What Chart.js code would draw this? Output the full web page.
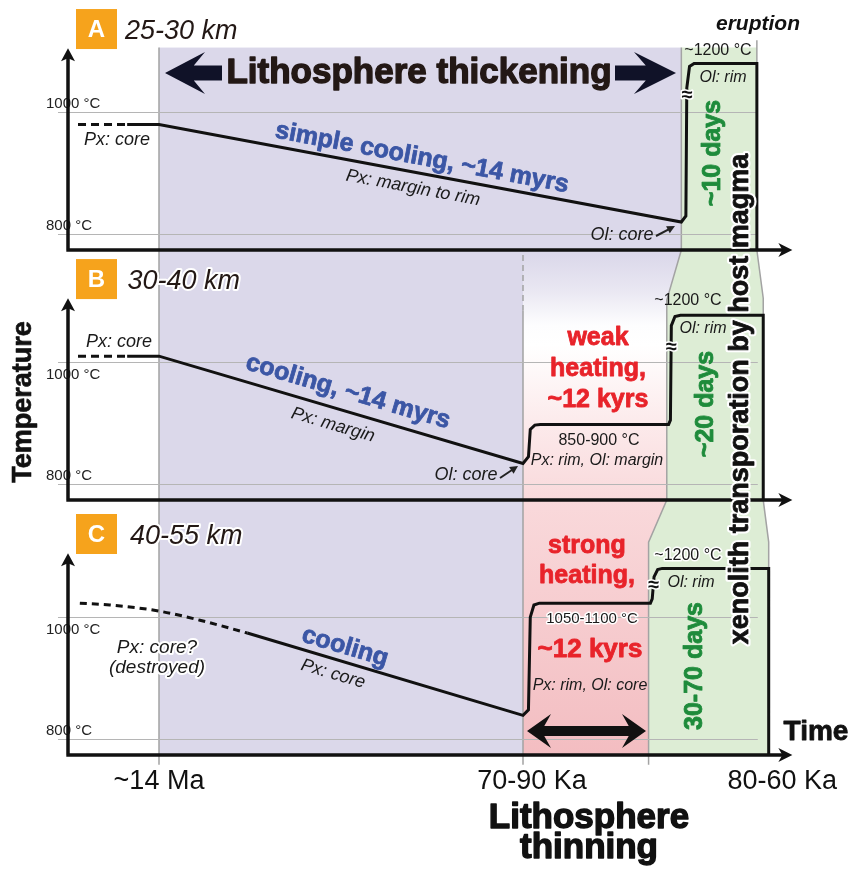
<!DOCTYPE html>
<html>
<head>
<meta charset="utf-8">
<script src="https://cdn.jsdelivr.net/npm/chart.js@4.4.1/dist/chart.umd.min.js"></script>
<style>
  html, body { margin: 0; padding: 0; background: #fff; }
  #chart { display: block; }
</style>
</head>
<body>
<canvas id="chart" width="853" height="870"></canvas>
<script>
const SANS = '"Liberation Sans", Arial, Helvetica, sans-serif';

// every panel shares the same temperature scale, only shifted down the page
const BASE_T = 774;   // temperature sitting on each panel's time axis
const SPAN_T = 1238;  // range covered by each y scale over the whole plot height

const panelNames = ['A', 'B', 'C'];
const panelDepths = ['25-30 km', '30-40 km', '40-55 km'];

const yTickValues = [800, 1000];
const yTickLabels = ['800 °C', '1000 °C'];
const xTickValues = [10, 51, 78.5];
const xTickLabels = ['~14 Ma', '70-90 Ka', '80-60 Ka'];

// A: 25-30 km
const aDashTime = [1.1, 6.5];
const aDashTemp = [980, 980];
const aTime = [6.5, 10, 67.4, 67.9, 68.0, 68.3, 68.8, 75.7, 75.7];
const aTemp = [980, 980, 820, 830, 1040, 1075, 1080, 1080, 774];

// B: 30-40 km
const bDashTime = [1.1, 6.5];
const bDashTemp = [1010, 1010];
const bTime = [6.5, 10, 50, 50.6, 50.8, 51.3, 51.9, 66.0, 66.2, 66.3, 66.7, 67.3, 76.4, 76.4];
const bTemp = [1010, 1010, 834, 845, 890, 897, 898, 898, 905, 1060, 1075, 1077, 1077, 774];

// C: 40-55 km
const cDashTime = [1.3, 4.6, 10, 14.5, 19.7];
const cDashTemp = [1023, 1020, 1010, 995, 974];
const cTime = [19.7, 50, 50.6, 50.8, 51.2, 51.8, 64.0, 64.2, 64.4, 64.8, 65.3, 77.0, 77.0];
const cTemp = [974, 839, 848, 1000, 1020, 1023, 1023, 1030, 1066, 1078, 1080, 1080, 774];

// where the ~ break marks sit on the fast rises: [time, panel, temp]
const breakMarks = [[67.95, 0, 1028], [66.2, 1, 1025], [64.25, 2, 1052]];

function pts(xs, ys) {
  return xs.map((x, i) => ({ x: x, y: ys[i] }));
}

function lineSet(xs, ys, axis, extra) {
  return Object.assign({
    data: pts(xs, ys),
    yAxisID: axis,
    borderColor: '#111',
    borderWidth: 3,
    pointRadius: 0,
    tension: 0,
    fill: false
  }, extra || {});
}

// ---- drawing helpers ----
function P(chart, x, p, t) {
  return [chart.scales.x.getPixelForValue(x), chart.scales['y' + panelNames[p]].getPixelForValue(t)];
}

function poly(ctx, chart, shape) {
  ctx.beginPath();
  shape.forEach((s, i) => {
    const q = P(chart, s[0], s[1], s[2]);
    if (i === 0) ctx.moveTo(q[0], q[1]); else ctx.lineTo(q[0], q[1]);
  });
}

function text(ctx, str, x, y, o) {
  o = o || {};
  ctx.save();
  ctx.translate(x, y);
  if (o.rot) ctx.rotate(o.rot * Math.PI / 180);
  ctx.font = o.font || ('16px ' + SANS);
  ctx.textAlign = o.align || 'center';
  ctx.textBaseline = o.base || 'alphabetic';
  ctx.lineJoin = 'round';
  if (o.halo) {
    ctx.lineWidth = o.halo;
    ctx.strokeStyle = '#fff';
    ctx.strokeText(str, 0, 0);
  }
  ctx.fillStyle = o.color || '#1a1a1a';
  if (o.heavy) {
    // the original lettering is a touch blacker than Liberation Bold
    ctx.lineWidth = o.heavy;
    ctx.strokeStyle = ctx.fillStyle;
    ctx.strokeText(str, 0, 0);
  }
  ctx.fillText(str, 0, 0);
  ctx.restore();
}

function blockArrow(ctx, y, left, right, head, half, shaft, color, both, dirRight) {
  // swept-back arrow head(s) on a thick shaft
  ctx.beginPath();
  const j = head * 0.72;
  if (both || !dirRight) {
    ctx.moveTo(left, y);
    ctx.lineTo(left + head, y - half);
    ctx.lineTo(left + j, y - shaft);
  } else {
    ctx.moveTo(left, y - shaft);
  }
  if (both || dirRight) {
    ctx.lineTo(right - j, y - shaft);
    ctx.lineTo(right - head, y - half);
    ctx.lineTo(right, y);
    ctx.lineTo(right - head, y + half);
    ctx.lineTo(right - j, y + shaft);
  } else {
    ctx.lineTo(right, y - shaft);
    ctx.lineTo(right, y + shaft);
  }
  if (both || !dirRight) {
    ctx.lineTo(left + j, y + shaft);
    ctx.lineTo(left + head, y + half);
  } else {
    ctx.lineTo(left, y + shaft);
  }
  ctx.closePath();
  ctx.fillStyle = color;
  ctx.fill();
}

function smallArrow(ctx, x0, y0, x1, y1) {
  const a = Math.atan2(y1 - y0, x1 - x0);
  ctx.save();
  ctx.strokeStyle = '#222';
  ctx.fillStyle = '#222';
  ctx.lineWidth = 2;
  ctx.beginPath();
  ctx.moveTo(x0, y0);
  ctx.lineTo(x1 - 5 * Math.cos(a), y1 - 5 * Math.sin(a));
  ctx.stroke();
  ctx.beginPath();
  ctx.moveTo(x1, y1);
  ctx.lineTo(x1 - 8 * Math.cos(a) + 4 * Math.sin(a), y1 - 8 * Math.sin(a) - 4 * Math.cos(a));
  ctx.lineTo(x1 - 8 * Math.cos(a) - 4 * Math.sin(a), y1 - 8 * Math.sin(a) + 4 * Math.cos(a));
  ctx.closePath();
  ctx.fill();
  ctx.restore();
}

// shapes of the shaded phases: [time, panel, temp]
const greenShape = [[67.4, 0, 1106], [67.4, 0, 774], [65.8, 1, 1102], [65.8, 1, 774], [63.8, 2, 1123], [63.8, 2, 774],
  [77.0, 2, 774], [77.0, 2, 1123], [76.4, 1, 774], [76.4, 1, 1105], [75.7, 0, 774], [75.7, 0, 1106]];
const greenLeft = [[67.4, 0, 1106], [67.4, 0, 774], [65.8, 1, 1102], [65.8, 1, 774], [63.8, 2, 1123], [63.8, 2, 758]];
const greenRight = [[75.7, 0, 1118], [75.7, 0, 774], [76.4, 1, 1105], [76.4, 1, 774], [77.0, 2, 1123], [77.0, 2, 774]];

const diagram = {
  id: 'diagram',
  beforeDatasetsDraw(chart) {
    const ctx = chart.ctx;
    const x = v => chart.scales.x.getPixelForValue(v);
    ctx.save();

    // cooling period (lavender)
    const pTop = P(chart, 10, 0, 1106);
    const pBot = P(chart, 67.4, 2, 774);
    ctx.fillStyle = '#DBD8EA';
    ctx.fillRect(pTop[0], pTop[1], pBot[0] - pTop[0], pBot[1] - pTop[1]);

    // heating period: lavender -> white -> pink
    const gTop = P(chart, 50, 1, 1176);
    const gBot = P(chart, 70, 2, 774);
    const g = ctx.createLinearGradient(0, gTop[1], 0, gBot[1]);
    g.addColorStop(0, '#DBD8EA');
    g.addColorStop(0.07, '#E9E7F2');
    g.addColorStop(0.14, '#FDFDFE');
    g.addColorStop(0.18, '#FFFFFF');
    g.addColorStop(0.33, '#FCEBEC');
    g.addColorStop(0.49, '#F9D9DB');
    g.addColorStop(1, '#F3BDC1');
    ctx.fillStyle = g;
    ctx.fillRect(gTop[0], gTop[1], gBot[0] - gTop[0], gBot[1] - gTop[1]);

    // transport by host magma (green)
    poly(ctx, chart, greenShape);
    ctx.closePath();
    ctx.fillStyle = '#DDEDD5';
    ctx.fill();

    // grey boundaries
    ctx.strokeStyle = '#A3A3A3';
    ctx.lineWidth = 1.5;
    poly(ctx, chart, greenLeft); ctx.stroke();
    poly(ctx, chart, greenRight); ctx.stroke();
    ctx.beginPath();
    let a = P(chart, 10, 0, 1106), b = P(chart, 10, 2, 758);
    ctx.moveTo(a[0], a[1]); ctx.lineTo(b[0], b[1]);
    a = P(chart, 50, 1, 1085); b = P(chart, 50, 2, 758);
    ctx.moveTo(a[0], a[1]); ctx.lineTo(b[0], b[1]);
    ctx.stroke();
    ctx.setLineDash([6, 4]);
    ctx.beginPath();
    a = P(chart, 50, 1, 1176); b = P(chart, 50, 1, 1085);
    ctx.moveTo(a[0], a[1]); ctx.lineTo(b[0], b[1]);
    ctx.stroke();
    ctx.setLineDash([]);

    // temperature grid lines
    ctx.strokeStyle = '#B5B5B5';
    ctx.lineWidth = 1.2;
    panelNames.forEach((n, p) => {
      yTickValues.forEach(t => {
        const y = Math.round(chart.scales['y' + n].getPixelForValue(t)) + 0.5;
        ctx.beginPath();
        ctx.moveTo(x(-1.1), y);
        ctx.lineTo(x(75.8), y);
        ctx.stroke();
      });
    });

    // temperature tick labels
    panelNames.forEach((n, p) => {
      yTickValues.forEach((t, i) => {
        const y = chart.scales['y' + n].getPixelForValue(t);
        const below = (t === 1000 && p > 0);
        text(ctx, yTickLabels[i], 46, below ? y + 17 : y - 4, { font: '15px ' + SANS, align: 'left', color: '#222', halo: 3 });
      });
    });
    ctx.restore();
  },

  afterDatasetsDraw(chart) {
    const ctx = chart.ctx;
    const x = v => chart.scales.x.getPixelForValue(v);
    ctx.save();

    // break marks on the fast rises
    breakMarks.forEach(m => {
      const q = P(chart, m[0], m[1], m[2]);
      text(ctx, '≈', q[0] + 1, q[1], { font: 'bold 20px ' + SANS, base: 'middle', color: '#111', halo: 3 });
    });

    // axes with arrow heads
    ctx.fillStyle = '#111';
    ctx.strokeStyle = '#111';
    ctx.lineWidth = 3.5;
    panelNames.forEach((n, p) => {
      const y0 = chart.scales['y' + n].getPixelForValue(BASE_T);
      const yTop = chart.scales['y' + n].getPixelForValue(1105);
      const x0 = x(0);
      const xEnd = x(79.6);
      ctx.beginPath();
      ctx.moveTo(x0, y0);
      ctx.lineTo(x0, yTop + 8);
      ctx.moveTo(x0 - 1.7, y0);
      ctx.lineTo(xEnd - 8, y0);
      ctx.stroke();
      ctx.beginPath();
      ctx.moveTo(x0, yTop);
      ctx.lineTo(x0 - 7, yTop + 13);
      ctx.lineTo(x0, yTop + 10);
      ctx.lineTo(x0 + 7, yTop + 13);
      ctx.closePath();
      ctx.fill();
      ctx.beginPath();
      ctx.moveTo(xEnd, y0);
      ctx.lineTo(xEnd - 14, y0 - 7);
      ctx.lineTo(xEnd - 10, y0);
      ctx.lineTo(xEnd - 14, y0 + 7);
      ctx.closePath();
      ctx.fill();

      // panel letter box and depth
      const by = y0 - 241;
      ctx.fillStyle = '#F6A31C';
      ctx.fillRect(76, by, 41, 40);
      text(ctx, n, 96.5, by + 21, { font: 'bold 24px ' + SANS, base: 'middle', color: '#fff' });
      text(ctx, panelDepths[p], 125 + p * 2.5, by + 30, { font: 'italic 27px ' + SANS, align: 'left', color: '#231815', halo: 4 });
      ctx.fillStyle = '#111';
    });

    // time tick labels
    const yAxisC = chart.scales.yC.getPixelForValue(BASE_T);
    xTickValues.forEach((v, i) => {
      text(ctx, xTickLabels[i], x(v), yAxisC + 34, { font: '27px ' + SANS, color: '#111' });
    });

    // panel A notes
    blockArrow(ctx, 73, 165, 222, 40, 21, 7.5, '#101228', false, false);
    blockArrow(ctx, 73, 615, 676, 42, 21, 7.5, '#101228', false, true);
    text(ctx, 'Lithosphere thickening', 419, 83, { font: 'bold 35px ' + SANS, color: '#231815', heavy: 1.4 });
    text(ctx, 'simple cooling, ~14 myrs', 422, 158, { font: 'bold 25px ' + SANS, color: '#3B56A5', rot: 10.6, base: 'middle', heavy: 0.8 });
    text(ctx, 'Px: margin to rim', 413, 188, { font: 'italic 18px ' + SANS, rot: 10.6, base: 'middle' });
    text(ctx, 'Px: core', 117, 145, { font: 'italic 18px ' + SANS });
    text(ctx, 'Ol: core', 622, 240, { font: 'italic 18px ' + SANS });
    smallArrow(ctx, 656, 236, 675, 226);
    text(ctx, '~1200 °C', 718, 55, { font: '16px ' + SANS });
    text(ctx, 'Ol: rim', 723, 82, { font: 'italic 16px ' + SANS });
    text(ctx, '~10 days', 713, 153, { font: 'bold 25px ' + SANS, color: '#1E8B3B', rot: -90, base: 'middle', heavy: 0.8 });
    text(ctx, 'eruption', 758, 30, { font: 'bold italic 21px ' + SANS, color: '#111' });

    // panel B notes
    text(ctx, 'Px: core', 119, 347, { font: 'italic 18px ' + SANS });
    text(ctx, 'cooling, ~14 myrs', 348, 392, { font: 'bold 25px ' + SANS, color: '#3B56A5', rot: 16.4, base: 'middle', heavy: 0.8 });
    text(ctx, 'Px: margin', 333, 425, { font: 'italic 18px ' + SANS, rot: 16.4, base: 'middle' });
    text(ctx, 'Ol: core', 466, 480, { font: 'italic 18px ' + SANS });
    smallArrow(ctx, 500, 478, 518, 466);
    text(ctx, 'weak', 598, 345, { font: 'bold 25px ' + SANS, color: '#E8232A', heavy: 0.8 });
    text(ctx, 'heating,', 598, 376, { font: 'bold 25px ' + SANS, color: '#E8232A', heavy: 0.8 });
    text(ctx, '~12 kyrs', 598, 407, { font: 'bold 25px ' + SANS, color: '#E8232A', heavy: 0.8 });
    text(ctx, '850-900 °C', 599, 445, { font: '16px ' + SANS });
    text(ctx, 'Px: rim, Ol: margin', 597, 465, { font: 'italic 16px ' + SANS });
    text(ctx, '~1200 °C', 688, 305, { font: '16px ' + SANS });
    text(ctx, 'Ol: rim', 703, 333, { font: 'italic 16px ' + SANS });
    text(ctx, '~20 days', 706, 404, { font: 'bold 25px ' + SANS, color: '#1E8B3B', rot: -90, base: 'middle', heavy: 0.8 });

    // panel C notes
    text(ctx, 'Px: core?', 157, 653, { font: 'italic 19px ' + SANS, halo: 4 });
    text(ctx, '(destroyed)', 157, 673, { font: 'italic 19px ' + SANS, halo: 4 });
    text(ctx, 'cooling', 345, 647, { font: 'bold 25px ' + SANS, color: '#3B56A5', rot: 16.5, base: 'middle', heavy: 0.8 });
    text(ctx, 'Px: core', 333, 674, { font: 'italic 18px ' + SANS, rot: 16.5, base: 'middle' });
    text(ctx, 'strong', 587, 553, { font: 'bold 25px ' + SANS, color: '#E8232A', heavy: 0.8 });
    text(ctx, 'heating,', 587, 583, { font: 'bold 25px ' + SANS, color: '#E8232A', heavy: 0.8 });
    text(ctx, '1050-1100 °C', 592, 623, { font: '15px ' + SANS, halo: 3 });
    text(ctx, '~12 kyrs', 590, 657, { font: 'bold 26px ' + SANS, color: '#E8232A', heavy: 0.8 });
    text(ctx, 'Px: rim, Ol: core', 590, 690, { font: 'italic 16px ' + SANS });
    blockArrow(ctx, 731, 527, 646, 24, 17, 5, '#111', true);
    text(ctx, '~1200 °C', 688, 560, { font: '16px ' + SANS, halo: 3 });
    text(ctx, 'Ol: rim', 691, 587, { font: 'italic 16px ' + SANS });
    text(ctx, '30-70 days', 695, 666, { font: 'bold 25px ' + SANS, color: '#1E8B3B', rot: -90, base: 'middle', heavy: 0.8 });

    // shared labels
    text(ctx, 'xenolith transporation by host magma', 741, 399, { font: 'bold 27px ' + SANS, color: '#111', rot: -90, base: 'middle', halo: 5, heavy: 0.8 });
    text(ctx, 'Temperature', 24, 402, { font: 'bold 27px ' + SANS, color: '#111', rot: -90, base: 'middle', heavy: 0.6 });
    text(ctx, 'Time', 816, 740, { font: 'bold 28px ' + SANS, color: '#111', heavy: 0.8 });
    text(ctx, 'Lithosphere', 589, 828, { font: 'bold 35px ' + SANS, color: '#111', heavy: 1.4 });
    text(ctx, 'thinning', 589, 858, { font: 'bold 35px ' + SANS, color: '#111', heavy: 1.4 });

    ctx.restore();
  }
};

const datasets = [
  lineSet(aDashTime, aDashTemp, 'yA', { borderDash: [8, 5] }),
  lineSet(aTime, aTemp, 'yA'),
  lineSet(bDashTime, bDashTemp, 'yB', { borderDash: [8, 5] }),
  lineSet(bTime, bTemp, 'yB'),
  lineSet(cDashTime, cDashTemp, 'yC', { borderDash: [7, 5], cubicInterpolationMode: 'monotone' }),
  lineSet(cTime, cTemp, 'yC')
];

const yScale = min => ({ type: 'linear', min: min, max: min + SPAN_T, display: false });

new Chart(document.getElementById('chart').getContext('2d'), {
  type: 'line',
  data: { datasets: datasets },
  options: {
    responsive: false,
    animation: false,
    events: [],
    layout: { padding: { left: 68, right: 57, top: 0, bottom: 115 } },
    plugins: { legend: { display: false }, tooltip: { enabled: false } },
    scales: {
      x: { type: 'linear', min: 0, max: 80, display: false },
      yA: yScale(-54),
      yB: yScale(356),
      yC: yScale(BASE_T)
    }
  },
  plugins: [diagram]
});
</script>
</body>
</html>
